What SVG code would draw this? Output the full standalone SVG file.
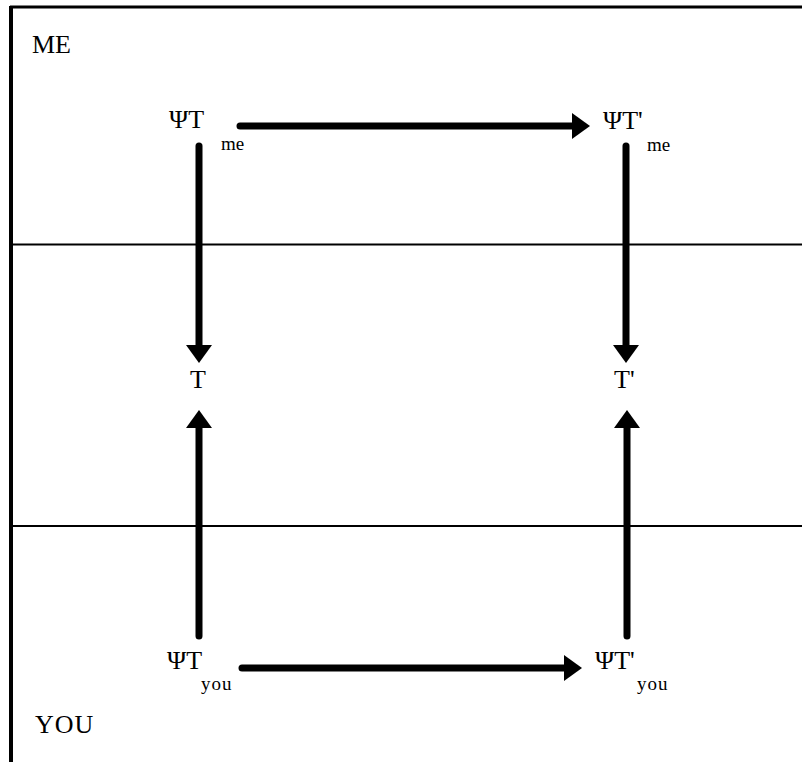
<svg xmlns="http://www.w3.org/2000/svg" width="802" height="762" viewBox="0 0 802 762">
<style>
.lbl{font-family:"Liberation Serif","Times New Roman",serif;fill:#000;font-size:26px}
.sub{font-family:"Liberation Serif","Times New Roman",serif;fill:#000;font-size:19px}
.rule{stroke:#000;fill:none}
.arr{stroke:#000;stroke-width:7;fill:none;stroke-linecap:round}
</style>
<defs>
<marker id="ah" markerUnits="userSpaceOnUse" markerWidth="20" markerHeight="26" viewBox="0 0 20 26" refX="2" refY="13" orient="auto">
<path d="M0,0 L18,13 L0,26 z" fill="#000"/>
</marker>
</defs>
<rect width="802" height="762" fill="#fff"/>
<g id="frame">
<line class="rule" x1="10" y1="7" x2="802" y2="7" stroke-width="3"/>
<line class="rule" x1="11" y1="6" x2="11" y2="762" stroke-width="4"/>
<line class="rule" x1="10" y1="244.5" x2="802" y2="244.5" stroke-width="2"/>
<line class="rule" x1="10" y1="526" x2="802" y2="526" stroke-width="2"/>
</g>
<g id="region-labels">
<text class="lbl" x="32" y="53">ME</text>
<text class="lbl" x="35" y="733" letter-spacing="1">YOU</text>
</g>
<g id="node-psiT-me">
<text class="lbl" x="169" y="128">ΨT</text>
<text class="sub" x="221" y="150">me</text>
</g>
<g id="node-psiTp-me">
<text class="lbl" x="603" y="129">ΨT'</text>
<text class="sub" x="647" y="151">me</text>
</g>
<g id="node-T">
<text class="lbl" x="198" y="388" text-anchor="middle">T</text>
</g>
<g id="node-Tp">
<text class="lbl" x="614" y="388">T'</text>
</g>
<g id="node-psiT-you">
<text class="lbl" x="167" y="669">ΨT</text>
<text class="sub" x="201" y="690" letter-spacing="1">you</text>
</g>
<g id="node-psiTp-you">
<text class="lbl" x="595" y="669">ΨT'</text>
<text class="sub" x="637" y="690" letter-spacing="1">you</text>
</g>
<g id="connectors">
<path class="arr" d="M240,126 H574" marker-end="url(#ah)"/>
<path class="arr" d="M242,668 H566" marker-end="url(#ah)"/>
<path class="arr" d="M199,146 V347" marker-end="url(#ah)"/>
<path class="arr" d="M199,636 V426" marker-end="url(#ah)"/>
<path class="arr" d="M626,146 V347" marker-end="url(#ah)"/>
<path class="arr" d="M627,636 V426" marker-end="url(#ah)"/>
</g>
</svg>
